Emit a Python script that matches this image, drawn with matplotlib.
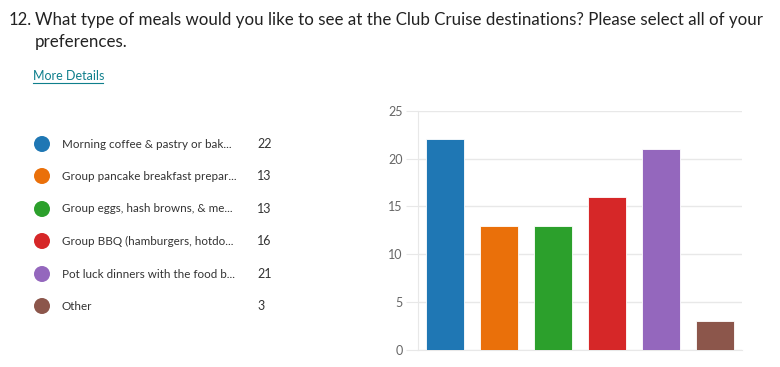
import matplotlib.pyplot as plt
from matplotlib.patches import Ellipse

plt.rcParams['font.family'] = ['Lato', 'DejaVu Sans']

# Data
labels = ['Morning coffee & pastry or bak...', 'Group pancake breakfast prepar...',
          'Group eggs, hash browns, & me...', 'Group BBQ (hamburgers, hotdo...',
          'Pot luck dinners with the food b...', 'Other']
counts = [22, 13, 13, 16, 21, 3]
colors = ['#1f77b4', '#ea700a', '#2ca02c', '#d62728', '#9467bd', '#8c564b']
yticks = [0, 5, 10, 15, 20, 25]

W, H = 780, 367
fig = plt.figure(figsize=(W / 100, H / 100), dpi=100)

# Title and link
fig.text(9 / W, 1 - 20 / H, '12.', fontsize=12, color='#222222', va='center')
fig.text(35 / W, 1 - 20 / H,
         'What type of meals would you like to see at the Club Cruise destinations? Please select all of your',
         fontsize=12.15, color='#222222', va='center')
fig.text(35 / W, 1 - 42 / H, 'preferences.', fontsize=12.15, color='#222222', va='center')
fig.text(33 / W, 1 - 76 / H, 'More Details', fontsize=9, color='#0f7f8c', va='center')
fig.lines.append(plt.Line2D([33 / W, 103 / W], [1 - 83 / H, 1 - 83 / H],
                            transform=fig.transFigure, color='#0f7f8c', linewidth=0.8))

# Legend on the left
row_y = [144, 176, 209, 241, 274, 306]
for lab, n, c, y in zip(labels, counts, colors, row_y):
    fig.patches.append(Ellipse((42 / W, 1 - y / H), 16 / W, 16 / H,
                               transform=fig.transFigure, facecolor=c, edgecolor='none'))
    fig.text(62 / W, 1 - y / H, lab, fontsize=8.4, color='#333333', va='center')
    fig.text(257 / W, 1 - y / H, str(n), fontsize=9, color='#333333', va='center')

# Bar chart
ax = fig.add_axes([418 / W, 17 / H, 324 / W, 239.3 / H])
x = range(len(counts))
ax.bar(x, counts, width=0.7, color=colors, edgecolor='white', linewidth=0.6, zorder=3)
ax.set_xlim(-0.5, len(counts) - 0.5)
ax.set_ylim(0, 25)
ax.set_yticks(yticks)
ax.set_xticks([])
ax.grid(axis='y', color='#e8e8e8', linewidth=1, zorder=0)
ax.tick_params(axis='y', length=9, color='#e8e8e8', labelcolor='#666666', labelsize=9, pad=2)
for s in ['top', 'right']:
    ax.spines[s].set_visible(False)
ax.spines['left'].set_color('#e8e8e8')
ax.spines['bottom'].set_color('#e8e8e8')

fig.savefig('out.png', dpi=100)
